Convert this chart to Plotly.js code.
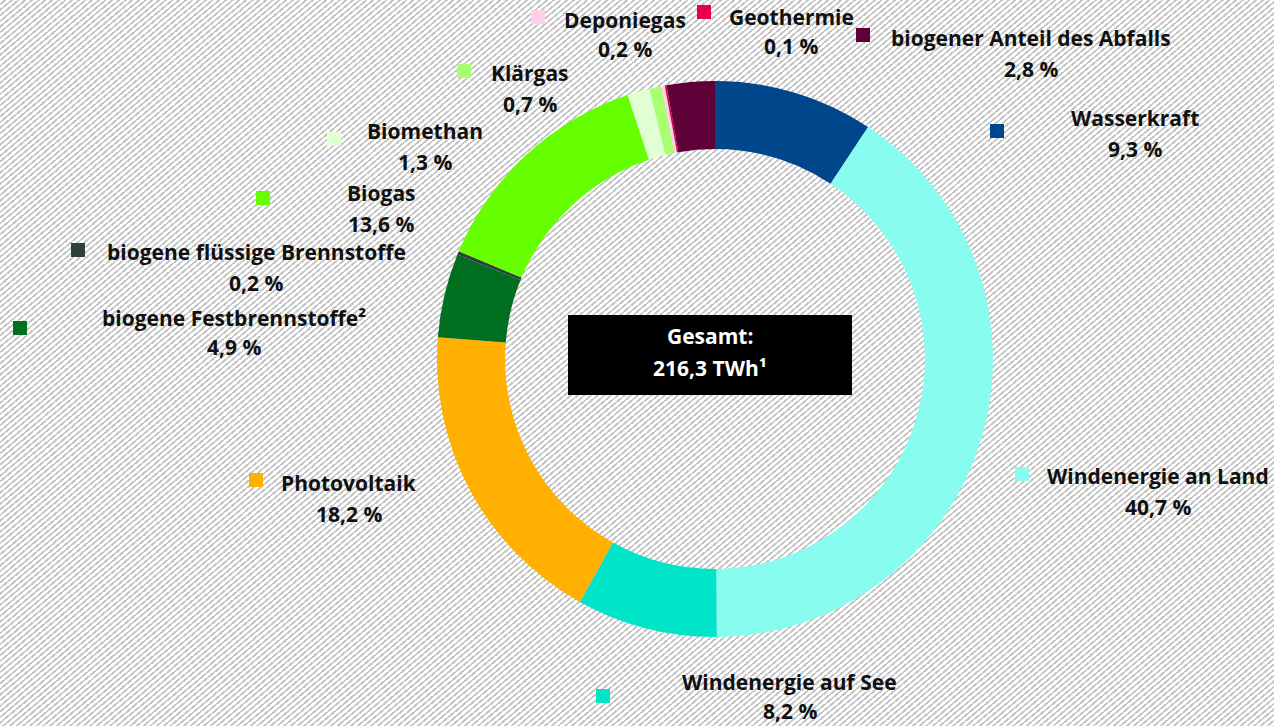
<!DOCTYPE html>
<html>
<head>
<meta charset="utf-8">
<script src="https://cdn.plot.ly/plotly-3.0.1.min.js"></script>
<style>
  html, body { margin: 0; padding: 0; }
  body {
    width: 1274px; height: 726px; overflow: hidden;
    background: repeating-linear-gradient(140deg, #ffffff 0px, #ffffff 2.5px, #c6c6c6 2.5px, #c6c6c6 4.3px);
  }
  #chart { width: 1274px; height: 726px; }
</style>
</head>
<body>
<div id="chart"></div>
<script>
// ---- data ----
const categories = [
  "Wasserkraft",
  "Windenergie an Land",
  "Windenergie auf See",
  "Photovoltaik",
  "biogene Festbrennstoffe²",
  "biogene flüssige Brennstoffe",
  "Biogas",
  "Biomethan",
  "Klärgas",
  "Deponiegas",
  "Geothermie",
  "biogener Anteil des Abfalls"
];
const shares = [9.3, 40.7, 8.2, 18.2, 4.9, 0.2, 13.6, 1.3, 0.7, 0.2, 0.1, 2.8];
const totalLabel = ["Gesamt:", "216,3 TWh¹"];

// ---- styles ----
const colors = [
  "#00468a", "#88fcee", "#00e4c8", "#ffb000", "#007020", "#2c4040",
  "#66ff00", "#e0ffd2", "#a8ff70", "#ffd0e8", "#e6004c", "#600038"
];
// label layout (pixel positions: centre x, first-line centre y, second-line centre y)
const labelPos = [
  [1135, 118, 149], [1158, 476, 507], [790, 682, 711], [349, 483, 514],
  [234, 318, 347], [256, 252, 283], [381, 193, 224], [425, 131, 162],
  [530, 73, 104], [625, 20, 49], [791, 17, 46], [1031, 38, 69]
];
const markerPos = [
  [990, 124], [1015, 467], [596, 689], [249, 473], [13, 321], [71, 243],
  [256, 191], [327, 132], [457, 64], [531, 10], [697, 5], [856, 28]
];

const W = 1274, H = 726;
const px = x => x / W;
const py = y => 1 - y / H;
const fmt = v => v.toFixed(1).replace('.', ',') + ' %';
const FONT = "'Open Sans', 'Noto Sans', sans-serif";
const FS = 21;

// pie geometry
const cx = 715, cy = 359, R = 278;

const trace = {
  type: 'pie',
  labels: categories,
  values: shares,
  sort: false,
  direction: 'clockwise',
  rotation: 0,
  hole: 0.755,
  textinfo: 'none',
  hoverinfo: 'label+percent',
  marker: { colors: colors, line: { width: 0 } },
  domain: { x: [px(cx - R), px(cx + R)], y: [py(cy + R), py(cy - R)] },
  showlegend: false
};

function textLine(txt, x, y, color) {
  return {
    xref: 'paper', yref: 'paper',
    x: px(x), y: py(y),
    xanchor: 'center', yanchor: 'middle', align: 'center',
    showarrow: false,
    text: '<b>' + txt + '</b>',
    font: { family: FONT, size: FS, color: color }
  };
}

const annotations = [];
categories.forEach((c, i) => {
  annotations.push(textLine(c, labelPos[i][0], labelPos[i][1], '#111111'));
  annotations.push(textLine(fmt(shares[i]), labelPos[i][0], labelPos[i][2], '#111111'));
});
annotations.push(textLine(totalLabel[0], 710, 336, '#ffffff'));
annotations.push(textLine(totalLabel[1], 710, 368, '#ffffff'));

const shapes = markerPos.map((m, i) => ({
  type: 'rect', xref: 'paper', yref: 'paper',
  x0: px(m[0]), x1: px(m[0] + 14), y0: py(m[1] + 14), y1: py(m[1]),
  fillcolor: colors[i], line: { width: 0 }
}));
shapes.push({
  type: 'rect', xref: 'paper', yref: 'paper',
  x0: px(568), x1: px(852), y0: py(395), y1: py(315),
  fillcolor: '#000000', line: { width: 0 }, layer: 'above'
});

const layout = {
  width: W, height: H,
  margin: { l: 0, r: 0, t: 0, b: 0 },
  paper_bgcolor: 'rgba(0,0,0,0)',
  plot_bgcolor: 'rgba(0,0,0,0)',
  showlegend: false,
  annotations: annotations,
  shapes: shapes,
  font: { family: FONT }
};

Plotly.newPlot('chart', [trace], layout, { displayModeBar: false, staticPlot: true });
</script>
</body>
</html>
